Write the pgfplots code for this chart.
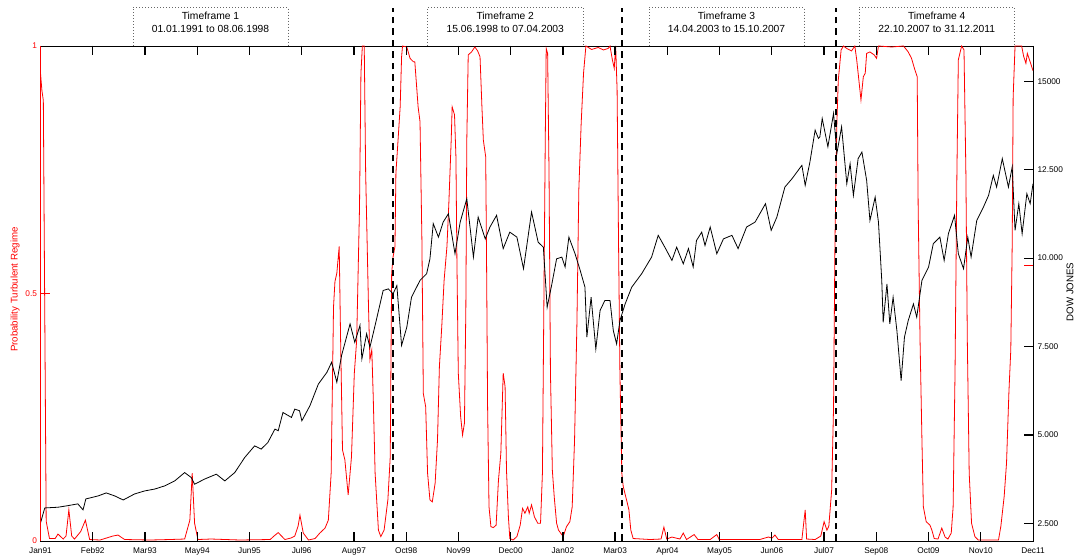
\documentclass[border=0pt]{standalone}
\usepackage{pgfplots}
\pgfplotsset{compat=1.18}
\usepackage{fontspec}
\setmainfont{Liberation Sans}
\begin{document}
\begin{tikzpicture}
\path[use as bounding box] (0pt,0pt) rectangle (1077pt,557pt);
% ---------------- left axis: probability (red)
\begin{axis}[
  at={(40.5pt,16pt)}, anchor=south west, scale only axis,
  width=992.5pt, height=495pt,
  xmin=1991, xmax=2012, ymin=0, ymax=1,
  xtick={1991,1992.10526,1993.21053,1994.31579,1995.42105,1996.52632,1997.63158,1998.73684,1999.84211,2000.94737,2002.05263,2003.15789,2004.26316,2005.36842,2006.47368,2007.57895,2008.68421,2009.78947,2010.89474,2012},
  xticklabels={Jan91,Feb92,Mar93,May94,Jun95,Jul96,Aug97,Oct98,Nov99,Dec00,Jan02,Mar03,Apr04,May05,Jun06,Jul07,Sep08,Oct09,Nov10,Dec11},
  ytick={0,0.5,1}, yticklabels={0,0.5,1},
  xtick pos=both, ytick pos=left,
  tick align=inside, major tick length=9pt,
  every major tick/.style={draw=black, line width=0.8pt},
  tick label style={font=\fontsize{8.3}{9}\selectfont},
  x tick label style={yshift=-3pt},
  y tick label style={red},
  axis line style={line width=0.8pt},
  ylabel={Probability Turbulent Regime},
  ylabel style={red, font=\fontsize{9.7}{11}\selectfont, at={(axis description cs:-0.0257,0.508)}, anchor=center},
  /pgf/number format/assume math mode=true,
]
\addplot[red, line width=0.8pt] coordinates {
(1991.00,0.945) (1991.03,0.91) (1991.06,0.89) (1991.12,0.04) (1991.19,0.005) (1991.31,0.005)
(1991.37,0.014) (1991.48,0.004) (1991.54,0.01) (1991.60,0.063) (1991.66,0.01) (1991.72,0.004)
(1991.85,0.019) (1991.95,0.042) (1992.04,0.003) (1992.26,0.002) (1992.53,0.01) (1992.64,0.012)
(1992.78,0.003) (1993.32,0.002) (1993.74,0.003) (1994.05,0.004) (1994.16,0.042) (1994.21,0.137)
(1994.26,0.036) (1994.33,0.003) (1994.61,0.004) (1995.22,0.002) (1995.86,0.003) (1995.94,0.01)
(1996.03,0.017) (1996.17,0.003) (1996.30,0.006) (1996.38,0.01) (1996.45,0.03) (1996.49,0.052)
(1996.56,0.016) (1996.67,0.002) (1996.81,0.005) (1996.91,0.016) (1997.02,0.026) (1997.09,0.042)
(1997.15,0.137) (1997.20,0.473) (1997.23,0.524) (1997.27,0.541) (1997.32,0.595) (1997.35,0.406)
(1997.39,0.184) (1997.44,0.164) (1997.51,0.093) (1997.58,0.170) (1997.64,0.339) (1997.69,0.406)
(1997.75,0.675) (1997.78,0.945) (1997.81,1.0) (1997.85,1.0) (1997.88,0.743) (1997.94,0.473)
(1997.97,0.366) (1998.01,0.386) (1998.04,0.292) (1998.08,0.137) (1998.15,0.022) (1998.20,0.009)
(1998.27,0.022) (1998.35,0.083) (1998.40,0.170) (1998.43,0.541) (1998.46,0.574) (1998.50,0.595)
(1998.52,0.743) (1998.57,0.817) (1998.61,0.877) (1998.64,0.978) (1998.66,1.0) (1998.75,0.998)
(1998.82,0.975) (1998.89,0.968) (1998.92,0.968) (1998.99,0.877) (1999.03,0.847) (1999.07,0.608)
(1999.10,0.298) (1999.15,0.271) (1999.19,0.137) (1999.24,0.083) (1999.29,0.079) (1999.35,0.117)
(1999.40,0.204) (1999.44,0.352) (1999.49,0.433) (1999.54,0.527) (1999.60,0.595) (1999.64,0.682)
(1999.69,0.810) (1999.71,0.877) (1999.76,0.861) (1999.79,0.776) (1999.81,0.574) (1999.84,0.339)
(1999.89,0.251) (1999.93,0.214) (1999.97,0.238) (2000.00,0.473) (2000.02,0.810) (2000.05,0.982)
(2000.12,0.988) (2000.19,0.998) (2000.25,0.99) (2000.30,0.978) (2000.34,0.877) (2000.37,0.810)
(2000.42,0.776) (2000.44,0.541) (2000.46,0.271) (2000.49,0.069) (2000.53,0.029) (2000.58,0.027)
(2000.64,0.032) (2000.69,0.123) (2000.74,0.177) (2000.79,0.339) (2000.83,0.312) (2000.86,0.143)
(2000.90,0.049) (2000.93,0.005) (2001.00,0.002) (2001.08,0.009) (2001.15,0.032) (2001.20,0.066)
(2001.25,0.056) (2001.31,0.069) (2001.34,0.056) (2001.39,0.073) (2001.45,0.049) (2001.52,0.036)
(2001.58,0.036) (2001.62,0.137) (2001.65,0.473) (2001.68,0.810) (2001.70,0.995) (2001.73,0.985)
(2001.76,0.743) (2001.79,0.339) (2001.83,0.143) (2001.87,0.089) (2001.92,0.036) (2001.96,0.022)
(2002.06,0.009) (2002.13,0.029) (2002.20,0.039) (2002.25,0.069) (2002.30,0.204) (2002.35,0.440)
(2002.39,0.709) (2002.44,0.844) (2002.49,0.945) (2002.54,1.0) (2002.66,0.993) (2002.80,0.997)
(2002.91,0.992) (2003.01,0.995) (2003.05,1.0) (2003.10,0.972) (2003.14,0.955) (2003.17,1.0)
(2003.20,0.911) (2003.23,0.608) (2003.26,0.339) (2003.30,0.137) (2003.33,0.110) (2003.40,0.083)
(2003.45,0.063) (2003.49,0.022) (2003.54,0.005) (2003.90,0.003) (2004.13,0.004) (2004.19,0.028)
(2004.25,0.004) (2004.36,0.008) (2004.53,0.004) (2004.60,0.016) (2004.67,0.003) (2004.83,0.013)
(2004.91,0.003) (2005.17,0.003) (2005.31,0.013) (2005.36,0.003) (2006.22,0.003) (2006.40,0.008)
(2006.48,0.006) (2006.54,0.012) (2006.61,0.003) (2007.11,0.003) (2007.18,0.063) (2007.21,0.004)
(2007.39,0.003) (2007.51,0.01) (2007.58,0.039) (2007.64,0.022) (2007.68,0.03) (2007.74,0.103)
(2007.78,0.271) (2007.81,0.608) (2007.85,0.844) (2007.88,0.931) (2007.94,0.992) (2007.99,1.0)
(2008.06,0.995) (2008.16,0.99) (2008.23,1.0) (2008.27,0.972) (2008.30,0.945) (2008.36,0.891)
(2008.41,0.938) (2008.45,0.945) (2008.48,0.985) (2008.55,0.988) (2008.64,0.982) (2008.69,0.975)
(2008.73,1.0) (2009.01,0.998) (2009.26,1.0) (2009.36,0.988) (2009.43,0.975) (2009.50,0.952)
(2009.55,0.938) (2009.57,0.675) (2009.61,0.406) (2009.65,0.204) (2009.68,0.069) (2009.74,0.039)
(2009.82,0.032) (2009.86,0.022) (2009.91,0.005) (2009.99,0.004) (2010.07,0.026) (2010.14,0.008)
(2010.20,0.004) (2010.27,0.016) (2010.31,0.069) (2010.35,0.339) (2010.39,0.743) (2010.42,0.972)
(2010.49,1.0) (2010.54,0.992) (2010.58,0.743) (2010.61,0.406) (2010.65,0.137) (2010.70,0.036)
(2010.77,0.009) (2010.84,0.002) (2011.27,0.002) (2011.32,0.03) (2011.39,0.09) (2011.44,0.158)
(2011.49,0.30) (2011.53,0.386) (2011.56,0.6) (2011.58,0.897) (2011.62,1.0) (2011.76,1.0)
(2011.80,0.98) (2011.85,0.965) (2011.88,0.985) (2011.94,0.968) (2012.00,0.95)
};
\end{axis}
% ---------------- right axis: Dow Jones (black)
\begin{axis}[
  at={(40.5pt,16pt)}, anchor=south west, scale only axis,
  width=992.5pt, height=495pt,
  xmin=1991, xmax=2012, ymin=2000, ymax=16000,
  axis line style={draw=none},
  xtick=\empty,
  ytick={2500,5000,7500,10000,12500,15000},
  yticklabels={2.500,5.000,7.500,10.000,12.500,15000},
  scaled y ticks=false,
  ytick pos=right,
  tick align=inside, major tick length=9pt,
  every major tick/.style={draw=black, line width=0.8pt},
  tick label style={font=\fontsize{8.3}{9}\selectfont},
  y tick label style={xshift=1pt},
  ylabel={DOW JONES},
  ylabel style={font=\fontsize{9.7}{11}\selectfont, at={(axis description cs:1.0373,0.503)}, anchor=center},
  /pgf/number format/assume math mode=true,
  clip=false,
]
\addplot[black, line width=0.8pt] coordinates {
(1991.00,2510) (1991.09,2935) (1991.37,2955) (1991.58,3000) (1991.79,3050) (1991.90,2880)
(1991.96,3190) (1992.22,3275) (1992.39,3360) (1992.57,3275) (1992.75,3160) (1992.99,3330)
(1993.20,3415) (1993.42,3470) (1993.63,3560) (1993.84,3700) (1994.05,3935) (1994.19,3795)
(1994.26,3605) (1994.47,3750) (1994.72,3890) (1994.90,3700) (1995.11,3935) (1995.32,4360)
(1995.53,4690) (1995.67,4600) (1995.81,4785) (1995.96,5165) (1996.03,5120) (1996.13,5635)
(1996.31,5495) (1996.38,5730) (1996.48,5685) (1996.53,5400) (1996.70,5825) (1996.88,6440)
(1997.06,6770) (1997.16,7055) (1997.27,6490) (1997.37,7245) (1997.55,8140) (1997.65,7620)
(1997.76,8100) (1997.80,7150) (1997.90,7860) (1997.97,7480) (1998.08,8100) (1998.25,9085)
(1998.36,9130) (1998.46,8990) (1998.54,9225) (1998.64,7530) (1998.75,8045) (1998.85,8895)
(1999.03,9370) (1999.17,9560) (1999.24,9980) (1999.31,10975) (1999.42,10595) (1999.52,11020)
(1999.63,11255) (1999.77,10125) (1999.88,11020) (2000.02,11680) (2000.16,10030) (2000.26,11160)
(2000.41,10545) (2000.51,10880) (2000.65,11210) (2000.79,10270) (2000.93,10735) (2001.08,10595)
(2001.22,9700) (2001.39,11305) (2001.53,10450) (2001.64,10310) (2001.72,8610) (2001.82,9270)
(2001.92,9980) (2002.03,10030) (2002.10,9750) (2002.18,10595) (2002.31,10125) (2002.42,9650)
(2002.52,9180) (2002.56,7765) (2002.65,8895) (2002.75,7430) (2002.84,8520) (2002.94,8800)
(2003.05,8800) (2003.12,7950) (2003.19,7575) (2003.26,8235) (2003.37,8705) (2003.51,9180)
(2003.72,9560) (2003.93,10030) (2004.07,10645) (2004.21,10310) (2004.36,9935) (2004.46,10310)
(2004.60,9840) (2004.71,10270) (2004.81,9750) (2004.88,10500) (2004.99,10735) (2005.06,10360)
(2005.17,10880) (2005.31,10125) (2005.45,10545) (2005.63,10645) (2005.76,10270) (2005.94,10880)
(2006.12,11020) (2006.34,11540) (2006.46,10785) (2006.58,11160) (2006.75,12010) (2006.90,12245)
(2007.11,12625) (2007.18,12060) (2007.28,12720) (2007.39,13620) (2007.46,13385) (2007.49,13430)
(2007.54,13950) (2007.66,13150) (2007.78,14095) (2007.85,12960) (2007.95,13715) (2008.06,12105)
(2008.13,12670) (2008.20,11775) (2008.30,12815) (2008.38,13000) (2008.48,12200) (2008.55,11065)
(2008.66,11725) (2008.73,11020) (2008.80,9370) (2008.83,8185) (2008.91,9270) (2008.97,8140)
(2009.04,8895) (2009.12,7950) (2009.21,6535) (2009.28,7765) (2009.36,8235) (2009.47,8705)
(2009.54,8330) (2009.65,9370) (2009.79,9745) (2009.89,10410) (2010.03,10595) (2010.12,9935)
(2010.21,10690) (2010.34,11210) (2010.42,10125) (2010.53,9700) (2010.62,10595) (2010.69,10030)
(2010.81,11065) (2010.95,11440) (2011.06,11775) (2011.16,12340) (2011.23,12010) (2011.35,12815)
(2011.48,12010) (2011.56,12580) (2011.62,10785) (2011.70,11540) (2011.77,10690) (2011.87,11825)
(2011.94,11540) (2012.00,12105)
};
\draw[red, line width=0.8pt] (axis cs:1991,2000) -- (axis cs:1991,16000);
\pgfplotsinvokeforeach{2500,5000,7500,10000,12500,15000}{
  \draw[black, line width=1.2pt] (axis cs:2012,#1) -- ([xshift=-9pt]axis cs:2012,#1);
}
\draw[red, line width=1.2pt] (axis cs:2012,9786) -- ([xshift=-9pt]axis cs:2012,9786);
\pgfplotsinvokeforeach{1998.45,2003.31,2007.83}{
  \draw[black, line width=2pt, dash pattern=on 6.5pt off 5pt] (axis cs:#1,2000) -- ([yshift=38pt]axis cs:#1,16000);
}
\end{axis}
% ---------------- inward x ticks (bottom and top) and left red tick, in page coordinates
\foreach \k in {1,...,18}{
  \draw[black, line width=1.3pt] ({40.5pt+\k*52.2368pt},16pt) -- ({40.5pt+\k*52.2368pt},25pt);
  \draw[black, line width=1.3pt] ({40.5pt+\k*52.2368pt},511pt) -- ({40.5pt+\k*52.2368pt},502pt);
}
\draw[red, line width=1.3pt] (40.5pt,263.5pt) -- (49.5pt,263.5pt);
% ---------------- timeframe boxes
\begin{scope}[every node/.style={font=\fontsize{10.3}{12}\selectfont, inner sep=0pt}]
\foreach \a/\b/\t/\d in {133/288/1/{01.01.1991 to 08.06.1998},427.5/583/2/{15.06.1998 to 07.04.2003},649/804/3/{14.04.2003 to 15.10.2007},859/1014.5/4/{22.10.2007 to 31.12.2011}}{
  \draw[black!60, line width=0.6pt, dash pattern=on 0.7pt off 2.3pt] (\a pt,511pt) -- (\a pt,549.7pt) -- (\b pt,549.7pt) -- (\b pt,511pt);
  \node[anchor=base] at ({(\a+\b)/2*1pt},537.7pt) {Timeframe \t};
  \node[anchor=base] at ({(\a+\b)/2*1pt},524.3pt) {\d};
}
\end{scope}
\end{tikzpicture}
\end{document}
